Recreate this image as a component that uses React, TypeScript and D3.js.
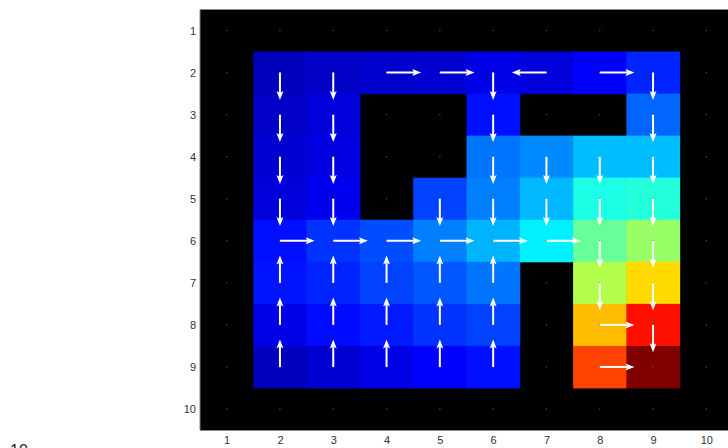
import React, { useEffect, useRef } from 'react';
import * as d3 from 'd3';

// state values (normalised 0..1), null = wall; rows 1..10 top to bottom
const VALUES: (number | null)[][] = [
    [null, null, null, null, null, null, null, null, null, null],
    [null, 0.06, 0.07, 0.075, 0.08, 0.1, 0.09, 0.125, 0.16, null],
    [null, 0.07, 0.09, null, null, 0.14, null, null, 0.225, null],
    [null, 0.08, 0.095, null, null, 0.24, 0.26, 0.31, 0.31, null],
    [null, 0.09, 0.11, null, 0.19, 0.25, 0.305, 0.4, 0.41, null],
    [null, 0.14, 0.175, 0.2, 0.25, 0.3, 0.36, 0.475, 0.525, null],
    [null, 0.145, 0.16, 0.19, 0.21, 0.24, null, 0.55, 0.66, null],
    [null, 0.1, 0.135, 0.15, 0.175, 0.19, null, 0.69, 0.86, null],
    [null, 0.06, 0.08, 0.1, 0.125, 0.14, null, 0.81, 1.0, null],
    [null, null, null, null, null, null, null, null, null, null],
];

// greedy policy per cell: > right, < left, ^ up, v down, . none
const POLICY: string[] = [
    '..........',
    '.vv>>v<>v.',
    '.vv..v..v.',
    '.vv..vvvv.',
    '.vv.vvvvv.',
    '.>>>>>>vv.',
    '.^^^^^.vv.',
    '.^^^^^.>v.',
    '.^^^^^.>..',
    '..........',
];

const TICKS = [1, 2, 3, 4, 5, 6, 7, 8, 9, 10];

const width = 728;
const height = 448;
const plot = { left: 200, right: 733, top: 9.5, bottom: 430 };

const DIRS: Record<string, [number, number]> = {
    '>': [1, 0],
    '<': [-1, 0],
    '^': [0, -1],
    'v': [0, 1],
};
const arrowLen = 0.65;

// matlab style jet colormap
const jet = d3.scaleLinear<string>()
    .domain([0, 0.125, 0.375, 0.625, 0.875, 1])
    .range(['#000080', '#0000ff', '#00ffff', '#ffff00', '#ff0000', '#800000'])
    .interpolate(d3.interpolateRgb);

export default function App() {
    const xAxisRef = useRef<SVGGElement>(null);
    const yAxisRef = useRef<SVGGElement>(null);

    const x = d3.scaleLinear().domain([0.5, 10.5]).range([plot.left, plot.right]);
    const y = d3.scaleLinear().domain([0.5, 10.5]).range([plot.top, plot.bottom]);
    const cw = x(1.5) - x(0.5);
    const ch = y(1.5) - y(0.5);

    useEffect(() => {
        const style = (g: d3.Selection<SVGGElement, unknown, null, undefined>) => {
            g.select('.domain').remove();
            g.selectAll('text')
                .attr('fill', '#333')
                .style('font-family', '"Liberation Sans", Arial, sans-serif')
                .style('font-size', '11px');
        };
        const gx = d3.select(xAxisRef.current!);
        gx.call(d3.axisBottom(x).tickValues(TICKS).tickSize(0).tickPadding(6).tickFormat(d3.format('d')));
        style(gx);
        const gy = d3.select(yAxisRef.current!);
        gy.call(d3.axisLeft(y).tickValues(TICKS).tickSize(0).tickPadding(4).tickFormat(d3.format('d')));
        style(gy);
    }, []);

    const cells: { r: number; c: number; v: number }[] = [];
    VALUES.forEach((row, r) => row.forEach((v, c) => {
        if (v !== null) cells.push({ r: r + 1, c: c + 1, v });
    }));

    const arrows: { r: number; c: number; dx: number; dy: number }[] = [];
    POLICY.forEach((row, r) => row.split('').forEach((ch, c) => {
        const d = DIRS[ch];
        if (d) arrows.push({ r: r + 1, c: c + 1, dx: d[0], dy: d[1] });
    }));

    return (
        <svg width={width} height={height} style={{ position: 'absolute', left: 0, top: 0 }}>
            <defs>
                <clipPath id="plot-clip">
                    <rect x={plot.left} y={plot.top} width={plot.right - plot.left} height={plot.bottom - plot.top} />
                </clipPath>
            </defs>
            <g clipPath="url(#plot-clip)">
                <rect x={plot.left} y={plot.top} width={plot.right - plot.left} height={plot.bottom - plot.top} fill="#000" />
                {cells.map(d => (
                    <rect key={`c${d.r}-${d.c}`} x={x(d.c - 0.5)} y={y(d.r - 0.5)} width={cw + 0.5} height={ch + 0.5} fill={jet(d.v)} />
                ))}
                {TICKS.map(r => TICKS.map(c => (
                    <circle key={`p${r}-${c}`} cx={x(c)} cy={y(r)} r={0.7} fill="#555" />
                )))}
                {arrows.map(a => {
                    const x0 = x(a.c), y0 = y(a.r);
                    const x1 = x(a.c + a.dx * arrowLen), y1 = y(a.r + a.dy * arrowLen);
                    const head = 9, half = 3.5;
                    const len = Math.hypot(x1 - x0, y1 - y0);
                    const ux = (x1 - x0) / len, uy = (y1 - y0) / len;
                    const bx = x1 - ux * head, by = y1 - uy * head;
                    const pts = [
                        [x1, y1],
                        [bx - uy * half, by + ux * half],
                        [bx + ux * 2, by + uy * 2],
                        [bx + uy * half, by - ux * half],
                    ].map(p => p.join(',')).join(' ');
                    return (
                        <g key={`a${a.r}-${a.c}`}>
                            <line x1={x0} y1={y0} x2={bx + ux * 2} y2={by + uy * 2} stroke="#fff" strokeWidth={2} />
                            <polygon points={pts} fill="#fff" />
                        </g>
                    );
                })}
            </g>
            <path d={`M${plot.left},${plot.bottom}V${plot.top}H${plot.right}`} fill="none" stroke="#888" strokeWidth={1} />
            <line x1={plot.left} y1={plot.bottom + 0.5} x2={plot.right} y2={plot.bottom + 0.5} stroke="#888" strokeWidth={1} />
            <g ref={xAxisRef} transform={`translate(0,${plot.bottom})`} />
            <g ref={yAxisRef} transform={`translate(${plot.left},0)`} />
            <text x={10} y={456} fontFamily='"Liberation Sans", Arial, sans-serif' fontSize={16} fill="#222">10</text>
        </svg>
    );
}
